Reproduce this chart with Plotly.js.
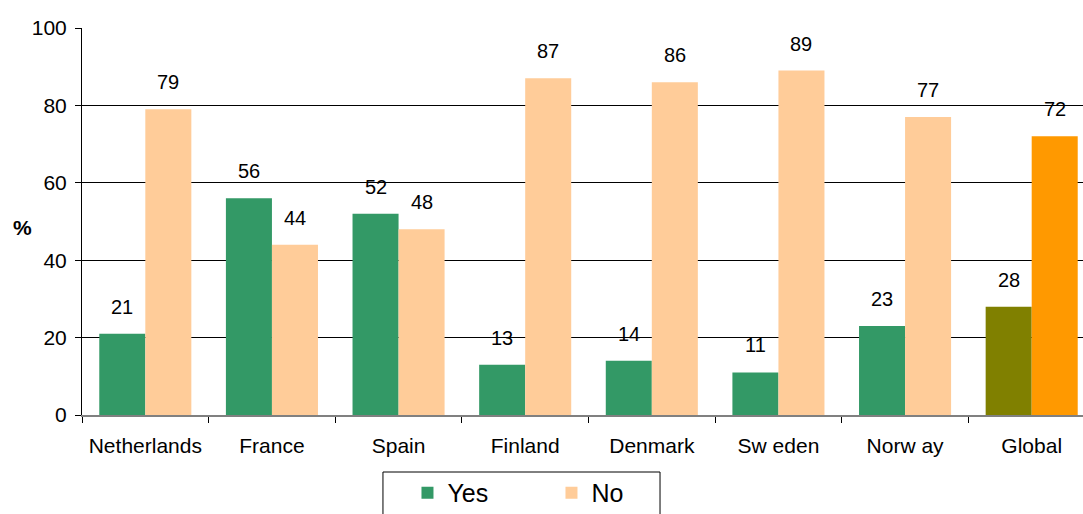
<!DOCTYPE html>
<html>
<head>
<meta charset="utf-8">
<script src="https://cdn.plot.ly/plotly-3.0.1.min.js"></script>
<style>html,body{margin:0;padding:0;background:#fff;overflow:hidden;}#chart{width:1083px;height:514px;overflow:hidden;}</style>
</head>
<body>
<div id="chart"></div>
<script>
const categories = ["Netherlands", "France", "Spain", "Finland", "Denmark", "Sw eden", "Norw ay", "Global"];
const yesValues = [21, 56, 52, 13, 14, 11, 23, 28];
const noValues = [79, 44, 48, 87, 86, 89, 77, 72];
const yesColors = ["#339966","#339966","#339966","#339966","#339966","#339966","#339966","#808000"];
const noColors = ["#FFCC99","#FFCC99","#FFCC99","#FFCC99","#FFCC99","#FFCC99","#FFCC99","#FF9900"];

const FONT = "Arial, Liberation Sans, sans-serif";
const traces = [
  {type: "bar", name: "Yes", x: categories, y: yesValues, marker: {color: yesColors}, hoverinfo: "x+y"},
  {type: "bar", name: "No", x: categories, y: noValues, marker: {color: noColors}, hoverinfo: "x+y"}
];

const annotations = [];
categories.forEach((c, i) => {
  annotations.push({x: c, y: yesValues[i], xref: "x", yref: "y", text: String(yesValues[i]), showarrow: false,
    xshift: -23, yshift: 27, font: {family: FONT, size: 20, color: "#000"}});
  annotations.push({x: c, y: noValues[i], xref: "x", yref: "y", text: String(noValues[i]), showarrow: false,
    xshift: 23, yshift: 27, font: {family: FONT, size: 20, color: "#000"}});
});
annotations.push({xref: "paper", yref: "paper", x: -0.059, y: 0.485, xanchor: "center", yanchor: "middle",
  text: "<b>%</b>", showarrow: false, font: {family: FONT, size: 21, color: "#000"}});

const layout = {
  width: 1095, height: 514,
  margin: {l: 82, r: 0, t: 28, b: 99, autoexpand: false},
  paper_bgcolor: "#fff", plot_bgcolor: "#fff",
  font: {family: FONT, size: 20, color: "#000"},
  barmode: "group", bargap: 0.273, bargroupgap: 0,
  showlegend: true,
  legend: {orientation: "h", x: 0.3213, xanchor: "left", y: -0.142, yanchor: "top",
    borderwidth: 0, bgcolor: "rgba(0,0,0,0)",
    font: {size: 25}, entrywidth: 99, entrywidthmode: "pixels", itemclick: false},
  shapes: [{type: "rect", xref: "paper", yref: "paper", x0: 0.2971, x1: 0.5706, y0: -0.1473, y1: -0.35,
    line: {color: "#000", width: 1}, fillcolor: "rgba(0,0,0,0)", layer: "below"}],
  xaxis: {type: "category", showline: true, linecolor: "#808080", linewidth: 1.5,
    ticks: "outside", tickson: "boundaries", ticklen: 6, tickcolor: "#000",
    showgrid: false, tickfont: {size: 21}, ticklabelstandoff: 11},
  yaxis: {range: [0, 100], tickvals: [0, 20, 40, 60, 80, 100], showline: true, linecolor: "#000",
    ticks: "outside", ticklen: 6, tickcolor: "#000", showgrid: true, gridcolor: "#000", gridwidth: 1,
    zeroline: false, tickfont: {size: 21}, ticklabelstandoff: 4},
  annotations: annotations
};

Plotly.newPlot("chart", traces, layout, {displayModeBar: false, staticPlot: true});
</script>
</body>
</html>
